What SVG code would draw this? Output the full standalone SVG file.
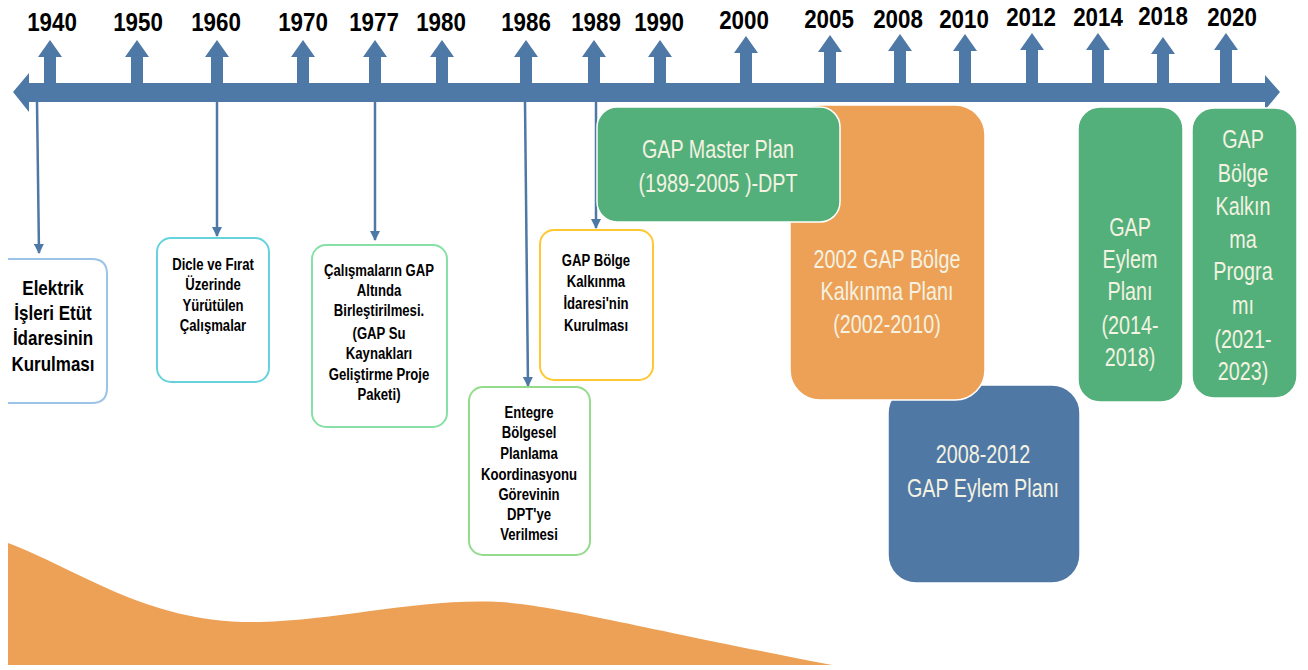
<svg xmlns="http://www.w3.org/2000/svg" width="1308" height="670" viewBox="0 0 1308 670">
<defs>
<style>
.yr{font-family:"Liberation Sans",Arial,sans-serif;font-weight:bold;font-size:26px;fill:#000;text-anchor:middle}
.sm{font-family:"Liberation Sans",Arial,sans-serif;font-weight:bold;font-size:16px;fill:#000;text-anchor:middle}
.md{font-family:"Liberation Sans",Arial,sans-serif;font-weight:bold;font-size:20px;fill:#000;text-anchor:middle}
.lt{font-family:"Liberation Sans",Arial,sans-serif;font-size:26px;fill:#f4f2e2;text-anchor:middle}
.tick{fill:#4e78a6}
.con{stroke:#4e78a6;stroke-width:2.5;fill:none;marker-end:url(#ah)}
.ob{fill:#fff;stroke-width:2}
.fill{stroke:#fff;stroke-width:1.5}
</style>
<marker id="ah" viewBox="0 0 10 10" refX="9" refY="5" markerWidth="4" markerHeight="4" orient="auto" markerUnits="strokeWidth">
<path d="M0,0 L10,5 L0,10 Z" fill="#4e78a6"/>
</marker>
</defs>
<rect width="1308" height="670" fill="#fff"/>

<!-- bottom wave -->
<path id="wave" d="M8,543 C80,570 150,625 260,622 C340,620 420,598 500,602 C560,606 640,628 832,665 L8,665 Z" fill="#eda156"/>

<!-- timeline -->
<g id="timeline" class="tick">
<polygon points="13,92 29,73 29,83 1265,83 1265,75 1280,92 1265,110 1265,102 29,102 29,112"/>
<path d="M44,84V57H38L50,40L62,57H56V84Z"/>
<path d="M131,84V57H125L137,40L149,57H143V84Z"/>
<path d="M211,84V57H205L217,40L229,57H223V84Z"/>
<path d="M297,84V57H291L303,40L315,57H309V84Z"/>
<path d="M369,84V57H363L375,40L387,57H381V84Z"/>
<path d="M436,84V57H430L442,40L454,57H448V84Z"/>
<path d="M520,84V57H514L526,40L538,57H532V84Z"/>
<path d="M588,84V57H582L594,40L606,57H600V84Z"/>
<path d="M654,84V57H648L660,40L672,57H666V84Z"/>
<path d="M740,84V53H734L746,36L758,53H752V84Z"/>
<path d="M824,84V52H818L830,35L842,52H836V84Z"/>
<path d="M894,84V51H888L900,34L912,51H906V84Z"/>
<path d="M959,84V51H953L965,34L977,51H971V84Z"/>
<path d="M1026,84V50H1020L1032,33L1044,50H1038V84Z"/>
<path d="M1092,84V50H1086L1098,33L1110,50H1104V84Z"/>
<path d="M1157,84V54H1151L1163,37L1175,54H1169V84Z"/>
<path d="M1220,84V50H1214L1226,33L1238,50H1232V84Z"/>
</g>
<g id="years">
<text class="yr" transform="translate(52,31) scale(0.86,1)">1940</text>
<text class="yr" transform="translate(138,31) scale(0.86,1)">1950</text>
<text class="yr" transform="translate(216,31) scale(0.86,1)">1960</text>
<text class="yr" transform="translate(303,31) scale(0.86,1)">1970</text>
<text class="yr" transform="translate(374,31) scale(0.86,1)">1977</text>
<text class="yr" transform="translate(441,31) scale(0.86,1)">1980</text>
<text class="yr" transform="translate(526,31) scale(0.86,1)">1986</text>
<text class="yr" transform="translate(596,31) scale(0.86,1)">1989</text>
<text class="yr" transform="translate(659,31) scale(0.86,1)">1990</text>
<text class="yr" transform="translate(744,29) scale(0.86,1)">2000</text>
<text class="yr" transform="translate(829,28) scale(0.86,1)">2005</text>
<text class="yr" transform="translate(898,28) scale(0.86,1)">2008</text>
<text class="yr" transform="translate(964,28) scale(0.86,1)">2010</text>
<text class="yr" transform="translate(1031,26) scale(0.86,1)">2012</text>
<text class="yr" transform="translate(1098,26) scale(0.86,1)">2014</text>
<text class="yr" transform="translate(1163,25) scale(0.86,1)">2018</text>
<text class="yr" transform="translate(1232,26) scale(0.86,1)">2020</text>
</g>

<g id="connectors">
<path class="con" d="M37,102 L39,253"/>
<path class="con" d="M217,102 L217,236"/>
<path class="con" d="M375,102 L375,240"/>
<path class="con" d="M525,102 L528,386"/>
<path class="con" d="M596,102 L596,228"/>
</g>

<g id="n1940">
<path d="M8,259 H92 Q107,259 107,274 V388 Q107,403 92,403 H8" fill="#fff" stroke="#9cc3e8" stroke-width="2"/>
<g transform="translate(53,0) scale(0.85,1)">
<text class="md" x="0" y="295">Elektrik</text>
<text class="md" x="0" y="320">İşleri Etüt</text>
<text class="md" x="0" y="345">İdaresinin</text>
<text class="md" x="0" y="371">Kurulması</text>
</g>
</g>

<g id="n1960">
<rect class="ob" x="157" y="238" width="112" height="144" rx="14" stroke="#66d3dc"/>
<g transform="translate(213,0) scale(0.82,1)">
<text class="sm" x="0" y="270">Dicle ve Fırat</text>
<text class="sm" x="0" y="290">Üzerinde</text>
<text class="sm" x="0" y="311">Yürütülen</text>
<text class="sm" x="0" y="331">Çalışmalar</text>
</g>
</g>

<g id="n1977">
<rect class="ob" x="312" y="245" width="135" height="182" rx="14" stroke="#86e0a8"/>
<g transform="translate(379,0) scale(0.82,1)">
<text class="sm" x="0" y="276">Çalışmaların GAP</text>
<text class="sm" x="0" y="296">Altında</text>
<text class="sm" x="0" y="316">Birleştirilmesi.</text>
<text class="sm" x="0" y="339">(GAP Su</text>
<text class="sm" x="0" y="359">Kaynakları</text>
<text class="sm" x="0" y="380">Geliştirme Proje</text>
<text class="sm" x="0" y="400">Paketi)</text>
</g>
</g>

<g id="n1986">
<rect class="ob" x="469" y="387" width="121" height="168" rx="14" stroke="#94db8c"/>
<g transform="translate(529,0) scale(0.82,1)">
<text class="sm" x="0" y="418">Entegre</text>
<text class="sm" x="0" y="438">Bölgesel</text>
<text class="sm" x="0" y="459">Planlama</text>
<text class="sm" x="0" y="480">Koordinasyonu</text>
<text class="sm" x="0" y="500">Görevinin</text>
<text class="sm" x="0" y="520">DPT'ye</text>
<text class="sm" x="0" y="540">Verilmesi</text>
</g>
</g>

<g id="n1989">
<rect class="ob" x="540" y="230" width="113" height="150" rx="14" stroke="#ffc832"/>
<g transform="translate(596,0) scale(0.82,1)">
<text class="sm" x="0" y="266">GAP Bölge</text>
<text class="sm" x="0" y="287">Kalkınma</text>
<text class="sm" x="0" y="309">İdaresi'nin</text>
<text class="sm" x="0" y="331">Kurulması</text>
</g>
</g>

<g id="eylem2008">
<rect class="fill" x="888" y="385" width="192" height="198" rx="28" fill="#4f78a5"/>
<g transform="translate(983,0) scale(0.76,1)">
<text class="lt" x="0" y="463">2008-2012</text>
<text class="lt" x="0" y="497">GAP Eylem Planı</text>
</g>
</g>

<g id="plan2002">
<rect class="fill" x="790" y="105" width="195" height="295" rx="30" fill="#eda156"/>
<g transform="translate(887,0) scale(0.76,1)">
<text class="lt" x="0" y="268">2002 GAP Bölge</text>
<text class="lt" x="0" y="300">Kalkınma Planı</text>
<text class="lt" x="0" y="333">(2002-2010)</text>
</g>
</g>

<g id="master">
<rect class="fill" x="597" y="107" width="243" height="115" rx="20" fill="#53b07a"/>
<g transform="translate(718,0) scale(0.76,1)">
<text class="lt" x="0" y="158">GAP Master Plan</text>
<text class="lt" x="0" y="192">(1989-2005 )-DPT</text>
</g>
</g>

<g id="eylem2014">
<rect class="fill" x="1078" y="107" width="105" height="295" rx="22" fill="#53b07a"/>
<g transform="translate(1130,0) scale(0.76,1)">
<text class="lt" x="0" y="236">GAP</text>
<text class="lt" x="0" y="268">Eylem</text>
<text class="lt" x="0" y="300">Planı</text>
<text class="lt" x="0" y="334">(2014-</text>
<text class="lt" x="0" y="366">2018)</text>
</g>
</g>

<g id="program2021">
<rect class="fill" x="1192" y="108" width="105" height="290" rx="22" fill="#53b07a"/>
<g transform="translate(1243,0) scale(0.76,1)">
<text class="lt" x="0" y="148">GAP</text>
<text class="lt" x="0" y="182">Bölge</text>
<text class="lt" x="0" y="215">Kalkın</text>
<text class="lt" x="0" y="248">ma</text>
<text class="lt" x="0" y="280">Progra</text>
<text class="lt" x="0" y="314">mı</text>
<text class="lt" x="0" y="348">(2021-</text>
<text class="lt" x="0" y="380">2023)</text>
</g>
</g>
</svg>
